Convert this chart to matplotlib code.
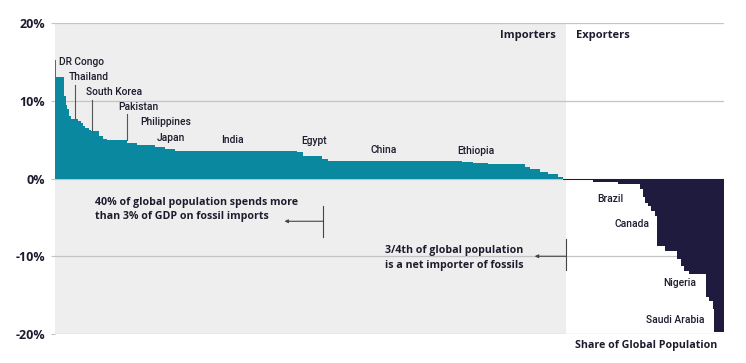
import matplotlib
matplotlib.use("Agg")
import matplotlib.pyplot as plt
import numpy as np

# Importers: population share (% of global population) and fossil trade balance (% of GDP)
imp_share = [0.15, 1.2, 0.3, 0.15, 0.3, 0.3, 1.05, 0.45, 0.3, 0.3, 0.6, 0.3, 1.2, 0.6, 0.6,
             3.0, 1.5, 2.7, 1.5, 1.5, 18.2, 0.9, 2.85, 0.9, 20.0, 1.65, 2.25, 5.5, 0.75,
             1.5, 1.2, 1.5, 0.75]
imp_value = [15.3, 13.0, 10.6, 9.5, 8.9, 8.0, 7.6, 7.4, 7.2, 6.8, 6.5, 6.3, 6.1, 5.5, 5.1,
             4.9, 4.6, 4.25, 4.0, 3.8, 3.6, 3.4, 2.9, 2.5, 2.3, 2.15, 1.95, 1.85, 1.5,
             1.2, 0.85, 0.55, 0.15]
# Exporters
exp_share = [4.5, 3.75, 3.3, 0.45, 0.3, 0.45, 0.45, 0.6, 0.3, 1.2, 1.65, 0.6, 0.45, 0.75,
             2.55, 0.45, 0.6, 0.15, 1.65]
exp_value = [-0.2, -0.45, -0.75, -1.4, -2.4, -3.1, -3.5, -4.2, -4.8, -8.7, -9.35, -10.4,
             -11.2, -11.9, -12.3, -15.3, -15.7, -16.8, -19.8]

yticks = [20, 10, 0, -10, -20]
ytick_labels = ["20%", "10%", "0%", "-10%", "-20%"]

# label text, x (% pop), y (%)
country_labels = [
    ("DR Congo", 0.6, 15.0),
    ("Thailand", 2.0, 13.0),
    ("South Korea", 4.6, 11.1),
    ("Pakistan", 9.4, 9.2),
    ("Philippines", 12.8, 7.3),
    ("Japan", 15.2, 5.2),
    ("India", 24.8, 5.0),
    ("Egypt", 36.8, 4.8),
    ("China", 47.1, 3.7),
    ("Ethiopia", 60.2, 3.6),
    ("Brazil", 81.0, -2.6),
    ("Canada", 83.7, -5.8),
    ("Nigeria", 90.9, -13.5),
    ("Saudi Arabia", 88.3, -18.2),
]
# leader lines: x, y_top, y_bottom
leaders = [(3.0, 12.0, 7.6), (5.5, 10.1, 6.1), (10.8, 8.3, 4.9)]

teal = "#0a88a0"
navy = "#1e1b3e"
grey_bg = "#eeeeee"
text_c = "#1c1c2e"

plt.rcParams['font.family'] = ['Open Sans', 'DejaVu Sans']

fig = plt.figure(figsize=(7.46, 3.63), dpi=100)
ax = fig.add_axes([55/746, 1-334/363, (724-55)/746, (334-23)/363])

imp_left = np.concatenate([[0], np.cumsum(imp_share)[:-1]])
exp_left = np.sum(imp_share) + np.concatenate([[0], np.cumsum(exp_share)[:-1]])
importer_end = 76.4

ax.axvspan(0, importer_end, color=grey_bg, zorder=0, lw=0)
for t in yticks:
    ax.axhline(t, color="#c4c4c4", lw=0.9, zorder=1)

ax.bar(imp_left, imp_value, width=imp_share, align='edge', color=teal, lw=0, zorder=2)
ax.bar(exp_left, exp_value, width=exp_share, align='edge', color=navy, lw=0, zorder=2)

ax.set_xlim(0, 100)
ax.set_ylim(-20, 20)
ax.set_yticks(yticks)
ax.set_yticklabels(ytick_labels, fontsize=9, fontweight='bold', color=text_c)
ax.tick_params(axis='y', length=3, color="#c4c4c4", pad=4)
ax.set_xticks([])
for s in ax.spines.values():
    s.set_visible(False)
ax.patch.set_alpha(0)

for name, x, y in country_labels:
    ax.text(x, y, name, fontsize=7.4, fontweight='medium', color=text_c, va='center', ha='left',
            zorder=4, family=['Roboto', 'DejaVu Sans'])
for x, y0, y1 in leaders:
    ax.plot([x, x], [y0, y1], color="#555555", lw=0.8, zorder=3)

ax.text(66.5, 18.4, "Importers", fontsize=8, fontweight='bold', color=text_c, va='center', ha='left')
ax.text(77.9, 18.4, "Exporters", fontsize=8, fontweight='bold', color=text_c, va='center', ha='left')
ax.text(77.7, -21.5, "Share of Global Population", fontsize=7.7, fontweight='bold', color=text_c,
        va='center', ha='left', clip_on=False)

# annotations
ax.text(6.0, -4.0, "40% of global population spends more\nthan 3% of GDP on fossil imports",
        fontsize=7.7, fontweight='bold', color=text_c, va='center', ha='left', linespacing=1.45)
ax.plot([40.1, 40.1], [-3.5, -7.5], color="#444444", lw=0.8, zorder=3)
ax.annotate("", xy=(34.3, -5.5), xytext=(40.1, -5.5),
            arrowprops=dict(arrowstyle="-|>", color="#444444", lw=0.8, mutation_scale=5, shrinkA=0, shrinkB=0))

ax.text(49.3, -10.2, "3/4th of global population\nis a net importer of fossils",
        fontsize=7.7, fontweight='bold', color=text_c, va='center', ha='left', linespacing=1.45)
ax.plot([importer_end, importer_end], [-7.8, -11.8], color="#444444", lw=0.8, zorder=3)
ax.annotate("", xy=(71.7, -10.0), xytext=(importer_end, -10.0),
            arrowprops=dict(arrowstyle="-|>", color="#444444", lw=0.8, mutation_scale=5, shrinkA=0, shrinkB=0))

fig.savefig("out.png", dpi=100)
